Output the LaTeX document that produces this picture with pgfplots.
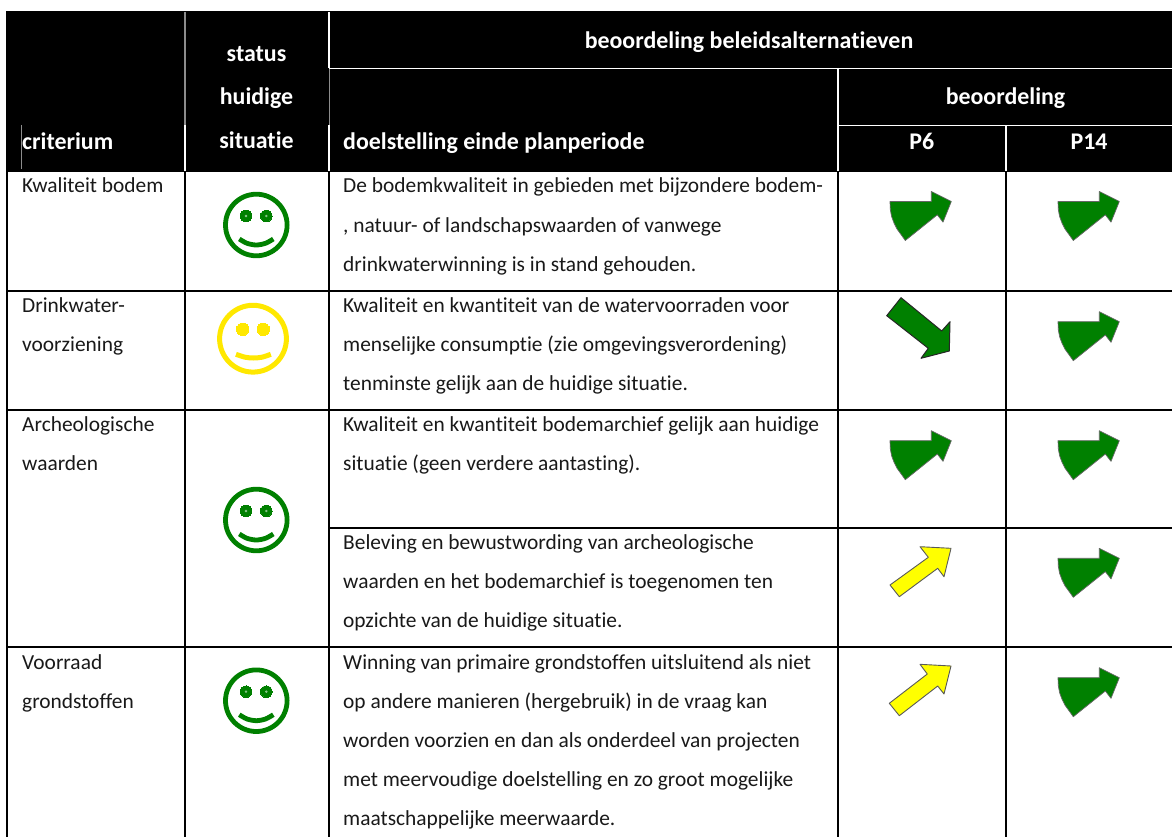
\documentclass[border=0pt]{standalone}
\usepackage{pgfplots}
\usepackage{fontspec}
\setmainfont[Ligatures=NoCommon]{Carlito}
\pgfplotsset{compat=1.18}
\definecolor{gr}{RGB}{0,128,0}
\definecolor{yl}{RGB}{255,232,0}
\definecolor{yar}{RGB}{255,255,0}
\newcommand{\B}[3]{\node[anchor=base west,inner sep=0pt,yshift=-1pt,font=\fontsize{21.4}{21.4}\selectfont,text=black!90] at (axis cs:#1,#2) {#3};}
\newcommand{\HL}[3]{\node[anchor=base west,inner sep=0pt,yshift=-1.6pt,font=\fontsize{23.9}{24}\selectfont\bfseries,text=white] at (axis cs:#1,#2) {#3};}
\newcommand{\HC}[3]{\node[anchor=base,inner sep=0pt,yshift=-1.6pt,font=\fontsize{23.9}{24}\selectfont\bfseries,text=white] at (axis cs:#1,#2) {#3};}
\begin{document}
\begin{tikzpicture}[x=1pt,y=1pt]
\useasboundingbox (0pt,0pt) rectangle (1172pt,837pt);
\begin{axis}[
  at={(0pt,0pt)},anchor=south west,
  width=1172pt,height=837pt,scale only axis,
  xmin=0,xmax=1172,ymin=0,ymax=837,y dir=reverse,
  axis lines=none,
]
% background and header
\addplot[fill=white,draw=none] coordinates {(0,0)(1172,0)(1172,837)(0,837)} --cycle;
\addplot[fill=black,draw=none] coordinates {(6,11)(1172,11)(1172,172)(6,172)} --cycle;
% white header rules
\addplot[white,line width=1.8pt] coordinates {(185,125)(185,172)};
\addplot[white,line width=1.4pt] coordinates {(329,12)(329,68)};
\addplot[white,line width=1.8pt] coordinates {(329,125)(329,172)};
\addplot[white,line width=1.2pt] coordinates {(329,68.3)(1172,68.3)};
\addplot[white,line width=1.6pt] coordinates {(838,68)(838,172)};
\addplot[white,line width=1.2pt] coordinates {(838,125.6)(1172,125.6)};
\addplot[white,line width=1.4pt] coordinates {(1006,125.6)(1006,172)};
\addplot[black!45,line width=1.1pt] coordinates {(185,12)(185,125)};
\addplot[black!45,line width=0.8pt] coordinates {(329,68.8)(329,125)};
\addplot[black!45,line width=0.6pt] coordinates {(21.6,125)(21.6,169)};
% body rules
\addplot[black,line width=2.2pt] coordinates {(7.3,171)(7.3,836.7)};
\addplot[black,line width=2pt] coordinates {(185,171)(185,836.7)};
\addplot[black,line width=2pt] coordinates {(329,171)(329,836.7)};
\addplot[black,line width=2pt] coordinates {(838,171)(838,836.7)};
\addplot[black,line width=2pt] coordinates {(1006,171)(1006,836.7)};
\addplot[black,line width=2pt] coordinates {(6,290.7)(1172,290.7)};
\addplot[black,line width=2pt] coordinates {(6,410)(1172,410)};
\addplot[black,line width=2pt] coordinates {(329,527.7)(1172,527.7)};
\addplot[black,line width=2pt] coordinates {(6,646.8)(1172,646.8)};
% smileys: faces
\addplot[gr,only marks,mark=o,mark size=30.8pt,mark options={draw=gr,fill=none,line width=4.8pt}] coordinates {(256.3,225)(256.3,520)(256.3,700.7)};
\addplot[gr,only marks,mark=*,mark size=5.8pt,mark options={draw=gr,fill=gr,line width=0pt}] coordinates {(246,216)(266.3,216)(246,511)(266.3,511)(246,691.7)(266.3,691.7)};
\addplot[gr!45!white,only marks,mark=*,mark size=1pt,mark options={draw=none,fill=gr!45!white}] coordinates {(246,216)(266.3,216)(246,511)(266.3,511)(246,691.7)(266.3,691.7)};
\addplot[gr,line width=4.8pt,smooth] coordinates {(239.3,239)(247,243.3)(256.3,245)(265.5,243.3)(273.3,239)};
\addplot[gr,line width=4.8pt,smooth] coordinates {(239.3,534)(247,538.3)(256.3,540)(265.5,538.3)(273.3,534)};
\addplot[gr,line width=4.8pt,smooth] coordinates {(239.3,714.7)(247,719)(256.3,720.7)(265.5,719)(273.3,714.7)};
\addplot[yl,only marks,mark=o,mark size=33.4pt,mark options={draw=yl,fill=none,line width=5pt}] coordinates {(253,338.7)};
\addplot[yl,only marks,mark=*,mark size=6.2pt,mark options={draw=yl,fill=yl,line width=0pt}] coordinates {(242.7,329.3)(263.3,329.3)};
\addplot[yl,line width=5pt,smooth] coordinates {(236,354.3)(245,357.2)(253.3,358)(262,357.2)(270.8,354.3)};
% green arrows, P6
\addplot[fill=gr,draw=black!60,line width=0.7pt,line join=round] coordinates {(890,201.5)(931.3,201.5)(931.3,191.5)(951.3,201.5)(943,222.1)(937.3,214.8)(905.3,240.5)(901,234.5)(897,229)(894,223)(891.6,216.5)(890.3,209.5)} --cycle;
\addplot[fill=gr,draw=black!85,line width=1pt,line join=round] coordinates {(901,297.7)(941.7,331)(950,321.7)(949.3,351)(921,358.3)(928.3,348.3)(886.7,315.7)} --cycle;
\addplot[fill=gr,draw=black!60,line width=0.7pt,line join=round] coordinates {(890,440.7)(931.3,440.7)(931.3,430.7)(951.3,440.7)(943,461.3)(937.3,454)(905.3,479.7)(901,473.7)(897,468.2)(894,462.2)(891.6,455.7)(890.3,448.7)} --cycle;
% yellow arrows, P6
\addplot[fill=yar,draw=black!65,line width=0.9pt,line join=round] coordinates {(951,548.3)(944,576.7)(937.7,568.3)(899.3,596.7)(890,585)(928.3,557.3)(920,546.7)} --cycle;
\addplot[fill=yar,draw=black!65,line width=0.9pt,line join=round] coordinates {(951,666)(944,694)(937.7,686)(899.3,715.7)(889.3,703.3)(927.3,674)(920,664.3)} --cycle;
% green arrows, P14
\addplot[fill=gr,draw=black!60,line width=0.7pt,line join=round] coordinates {(1058,201.5)(1099.3,201.5)(1099.3,191.5)(1119.3,201.5)(1111,222.1)(1105.3,214.8)(1073.3,240.5)(1069,234.5)(1065,229)(1062,223)(1059.6,216.5)(1058.3,209.5)} --cycle;
\addplot[fill=gr,draw=black!60,line width=0.7pt,line join=round] coordinates {(1058,321.7)(1099.3,321.7)(1099.3,311.7)(1119.3,321.7)(1111,342.3)(1105.3,335)(1073.3,360.7)(1069,354.7)(1065,349.2)(1062,343.2)(1059.6,336.7)(1058.3,329.7)} --cycle;
\addplot[fill=gr,draw=black!60,line width=0.7pt,line join=round] coordinates {(1058,440.7)(1099.3,440.7)(1099.3,430.7)(1119.3,440.7)(1111,461.3)(1105.3,454)(1073.3,479.7)(1069,473.7)(1065,468.2)(1062,462.2)(1059.6,455.7)(1058.3,448.7)} --cycle;
\addplot[fill=gr,draw=black!60,line width=0.7pt,line join=round] coordinates {(1058,558.3)(1099.3,558.3)(1099.3,548.3)(1119.3,558.3)(1111,578.9)(1105.3,571.6)(1073.3,597.3)(1069,591.3)(1065,585.8)(1062,579.8)(1059.6,573.3)(1058.3,566.3)} --cycle;
\addplot[fill=gr,draw=black!60,line width=0.7pt,line join=round] coordinates {(1058,677.7)(1099.3,677.7)(1099.3,667.7)(1119.3,677.7)(1111,698.3)(1105.3,691)(1073.3,716.7)(1069,710.7)(1065,705.2)(1062,699.2)(1059.6,692.7)(1058.3,685.7)} --cycle;
% header text
\HL{22}{148}{criterium}
\HC{256.5}{60}{status}
\HC{256.5}{103}{huidige}
\HC{256.5}{146.7}{situatie}
\HL{343}{148}{doelstelling einde planperiode}
\HC{749}{47}{beoordeling beleidsalternatieven}
\HC{1005.5}{103}{beoordeling}
\HC{921.7}{148}{P6}
\HC{1089}{148}{P14}
% first column
\B{22}{192}{Kwaliteit bodem}
\B{22}{311}{Drinkwater-}
\B{22}{350}{voorziening}
\B{22}{430}{Archeologische}
\B{22}{469}{waarden}
\B{22}{668}{Voorraad}
\B{22}{707}{grondstoffen}
% objectives
\B{343}{192}{De bodemkwaliteit in gebieden met bijzondere bodem-}
\B{343}{231}{, natuur- of landschapswaarden of vanwege}
\B{343}{270}{drinkwaterwinning is in stand gehouden.}
\B{343}{311}{Kwaliteit en kwantiteit van de watervoorraden voor}
\B{343}{350}{menselijke consumptie (zie omgevingsverordening)}
\B{343}{389}{tenminste gelijk aan de huidige situatie.}
\B{343}{430}{Kwaliteit en kwantiteit bodemarchief gelijk aan huidige}
\B{343}{469}{situatie (geen verdere aantasting).}
\B{343}{548}{Beleving en bewustwording van archeologische}
\B{343}{587}{waarden en het bodemarchief is toegenomen ten}
\B{343}{626}{opzichte van de huidige situatie.}
\B{343}{668}{Winning van primaire grondstoffen uitsluitend als niet}
\B{343}{707}{op andere manieren (hergebruik) in de vraag kan}
\B{343}{746}{worden voorzien en dan als onderdeel van projecten}
\B{343}{785}{met meervoudige doelstelling en zo groot mogelijke}
\B{343}{824}{maatschappelijke meerwaarde.}
\end{axis}
\end{tikzpicture}
\end{document}
